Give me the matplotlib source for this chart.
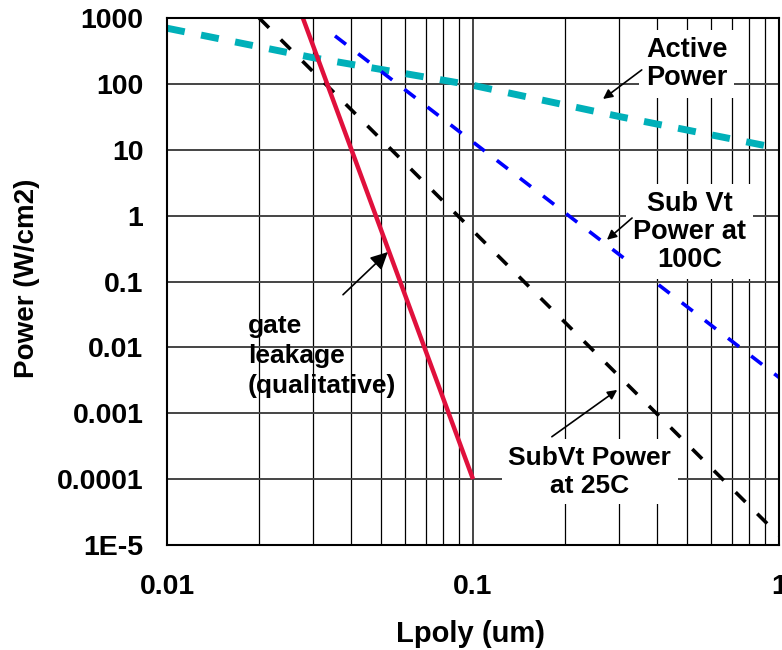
import matplotlib
matplotlib.use('Agg')
import matplotlib.pyplot as plt
from matplotlib.ticker import FixedLocator, FixedFormatter, NullFormatter

plt.rcParams['font.family'] = ['Liberation Sans', 'DejaVu Sans']
plt.rcParams['font.weight'] = 'bold'
plt.rcParams['lines.scale_dashes'] = False

# datos (Lpoly en um, potencia en W/cm2)
active_x = [0.01, 0.03, 0.1, 0.3, 1.0]
active_y = [700, 250, 95, 32, 10.5]

subvt100_x = [0.0354, 1.0]
subvt100_y = [535, 0.0035]

subvt25_x = [0.02, 1.0]
subvt25_y = [1000, 1.4e-5]

gate_x = [0.0278, 0.1]
gate_y = [1000, 1e-4]

x_ticks = [0.01, 0.1, 1]
x_labels = ['0.01', '0.1', '1']
y_ticks = [1e-5, 1e-4, 1e-3, 1e-2, 1e-1, 1, 10, 100, 1000]
y_labels = ['1E-5', '0.0001', '0.001', '0.01', '0.1', '1', '10', '100', '1000']

fig = plt.figure(figsize=(7.82, 6.5), dpi=100)
ax = fig.add_axes([167 / 782, 105 / 650, 612 / 782, 527 / 650])
ax.set_xscale('log')
ax.set_yscale('log')
ax.set_xlim(0.01, 1)
ax.set_ylim(1e-5, 1000)

# rejilla: verticales mayores y menores, horizontales solo mayores
ax.xaxis.set_major_locator(FixedLocator(x_ticks))
ax.xaxis.set_major_formatter(FixedFormatter(x_labels))
ax.xaxis.set_minor_locator(FixedLocator([k * 10.0 ** e for e in (-2, -1) for k in range(2, 10)]))
ax.xaxis.set_minor_formatter(NullFormatter())
ax.yaxis.set_major_locator(FixedLocator(y_ticks))
ax.yaxis.set_major_formatter(FixedFormatter(y_labels))
ax.yaxis.set_minor_locator(FixedLocator([]))
ax.grid(True, which='major', color='#444444', lw=1.4)
ax.grid(True, which='minor', axis='x', color='black', lw=0.9)
ax.tick_params(which='both', length=0)
ax.tick_params(axis='y', pad=17, labelsize=20.5)
ax.tick_params(axis='x', pad=21, labelsize=20.5)
for s in ax.spines.values():
    s.set_linewidth(1.5)
    s.set_color('black')

l1, = ax.plot(active_x, active_y, color='#00B0B9', lw=5, solid_capstyle='butt', dash_capstyle='butt')
l1.set_dashes([13, 12])
l2, = ax.plot(subvt100_x, subvt100_y, color='#0000FF', lw=2.6, dash_capstyle='butt')
l2.set_dashes([10, 11])
l3, = ax.plot(subvt25_x, subvt25_y, color='black', lw=2.6, dash_capstyle='butt')
l3.set_dashes([10, 12])
ax.plot(gate_x, gate_y, color='#E0103C', lw=3.2, solid_capstyle='butt')

caja = dict(boxstyle='square,pad=0.25', fc='white', ec='none')
flecha = dict(arrowstyle='-|>', color='black', lw=1.2, mutation_scale=14, shrinkA=0, shrinkB=0)

ax.annotate('', xy=(0.266, 59), xytext=(0.356, 163), arrowprops=flecha, zorder=6)
ax.text(0.5, 200, 'Active\nPower', ha='center', va='center', fontsize=19.5,
        linespacing=1.1, bbox=caja, zorder=5)

ax.annotate('', xy=(0.274, 0.43), xytext=(0.331, 0.92), arrowprops=flecha, zorder=6)
ax.text(0.51, 0.57, 'Sub Vt\nPower at\n100C', ha='center', va='center', fontsize=19.5,
        linespacing=1.1, bbox=caja, zorder=5)

ax.annotate('', xy=(0.296, 0.00226), xytext=(0.181, 0.00044), arrowprops=flecha, zorder=6)
ax.text(0.241, 1.29e-4, 'SubVt Power\nat 25C', ha='center', va='center', fontsize=19,
        linespacing=1.2, bbox=caja, zorder=5)

ax.annotate('', xy=(0.0527, 0.28), xytext=(0.0376, 0.063),
            arrowprops=dict(arrowstyle='-|>', color='black', lw=1.2, mutation_scale=26,
                            shrinkA=0, shrinkB=0), zorder=6)
ax.text(0.0184, 0.0074, 'gate\nleakage\n(qualitative)', ha='left', va='center',
        fontsize=19, linespacing=1.3, zorder=5)

fig.text(470 / 782, 1 - 634 / 650, 'Lpoly (um)', ha='center', va='center', fontsize=21)
fig.text(27 / 782, 1 - 278 / 650, 'Power (W/cm2)', ha='center', va='center',
         rotation=90, fontsize=20)

fig.savefig('out.png', dpi=100)
